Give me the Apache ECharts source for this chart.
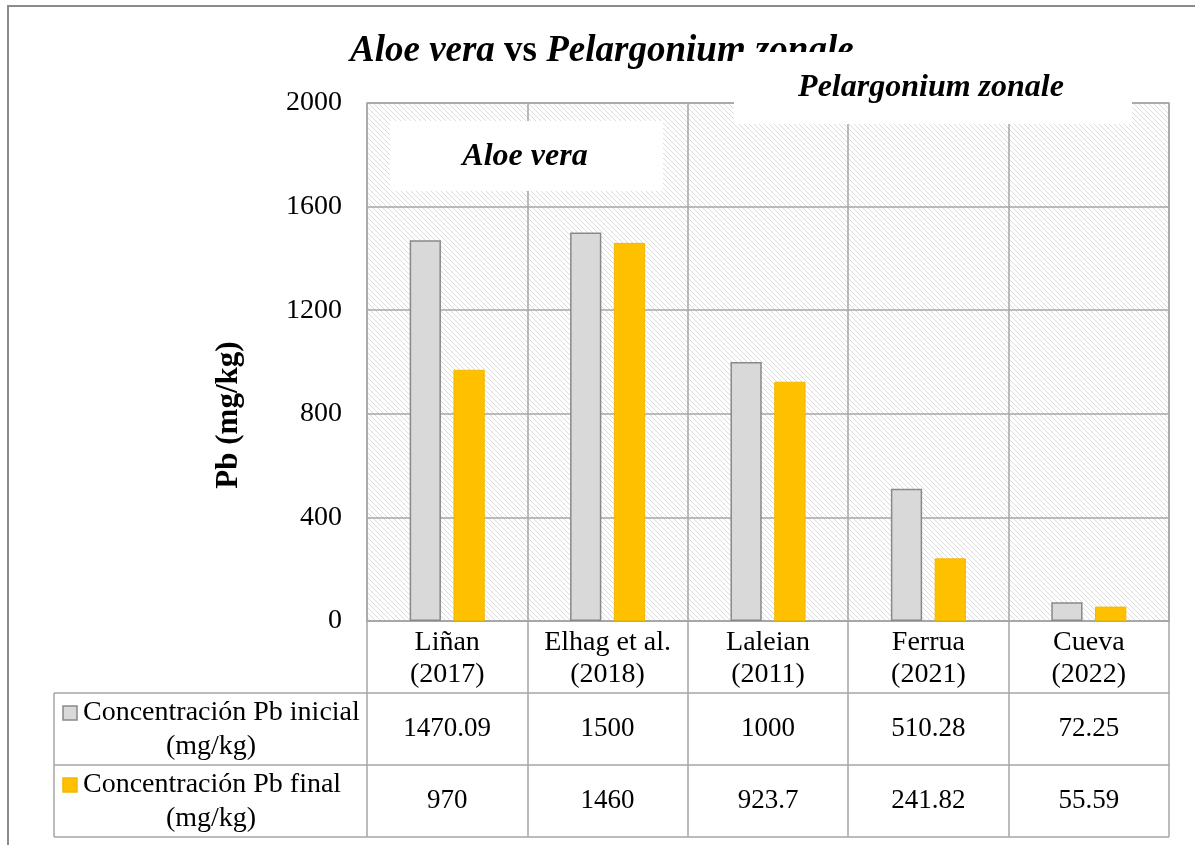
<!DOCTYPE html>
<html>
<head>
<meta charset="utf-8">
<script src="https://cdn.jsdelivr.net/npm/echarts@6/dist/echarts.min.js"></script>
<style>
  html, body { margin: 0; padding: 0; background: #fff; }
  #main { width: 1195px; height: 845px; }
</style>
</head>
<body>
<div id="main"></div>
<script>
// datos
var categories = ["Liñan\n(2017)", "Elhag et al.\n(2018)", "Laleian\n(2011)", "Ferrua\n(2021)", "Cueva\n(2022)"];
var pbInicial = [1470.09, 1500, 1000, 510.28, 72.25];
var pbFinal = [970, 1460, 923.7, 241.82, 55.59];
var seriesNames = ["Concentración Pb inicial", "Concentración Pb final"];
var yTicks = { min: 0, max: 2000, interval: 400 };

var FONT = "'Times New Roman', 'Liberation Serif', serif";
var LINE = "#a6a6a6";

// patron rayado del fondo
function hatch() {
  var c = document.createElement("canvas");
  c.width = 5; c.height = 5;
  var ctx = c.getContext("2d");
  ctx.fillStyle = "#ffffff";
  ctx.fillRect(0, 0, 5, 5);
  ctx.strokeStyle = "#dcdcdc";
  ctx.lineWidth = 1;
  ctx.beginPath();
  ctx.moveTo(-1, -1); ctx.lineTo(6, 6);
  ctx.moveTo(-1, 4); ctx.lineTo(1, 6);
  ctx.moveTo(4, -1); ctx.lineTo(6, 1);
  ctx.stroke();
  return c;
}

var chart = echarts.init(document.getElementById("main"));

var option = {
  backgroundColor: "#ffffff",
  animation: false,
  title: {
    text: "{i|Aloe vera }{b|vs }{i|Pelargonium zonale}",
    left: 345,
    top: 28,
    textStyle: {
      rich: {
        i: { fontFamily: FONT, fontSize: 37, fontWeight: "bold", fontStyle: "italic", color: "#000" },
        b: { fontFamily: FONT, fontSize: 37, fontWeight: "bold", color: "#000" }
      }
    }
  },
  grid: {
    left: 367, right: 26, top: 103, bottom: 224,
    show: true,
    backgroundColor: { image: hatch(), repeat: "repeat" },
    borderColor: LINE,
    borderWidth: 1.5
  },
  xAxis: {
    type: "category",
    data: categories,
    axisLine: { lineStyle: { color: LINE, width: 1.5 } },
    axisTick: { show: true, interval: 0, length: 216, lineStyle: { color: LINE, width: 1.5 } },
    axisLabel: { interval: 0, color: "#000", fontFamily: FONT, fontSize: 28, lineHeight: 32, margin: 6 },
    splitLine: { show: true, interval: 0, lineStyle: { color: LINE, width: 1.5 } }
  },
  yAxis: {
    type: "value",
    min: yTicks.min, max: yTicks.max, interval: yTicks.interval,
    axisLine: { show: false },
    axisTick: { show: false },
    axisLabel: { color: "#000", fontFamily: FONT, fontSize: 28, margin: 25,
      formatter: function (v) { return String(v); } },
    splitLine: { lineStyle: { color: LINE, width: 1.5 } }
  },
  series: [
    {
      name: seriesNames[0],
      type: "bar",
      data: pbInicial,
      barWidth: "19.5%",
      barGap: "40%",
      itemStyle: { color: "#d9d9d9", borderColor: "#898989", borderWidth: 1.5 }
    },
    {
      name: seriesNames[1],
      type: "bar",
      data: pbFinal,
      barWidth: "19.5%",
      itemStyle: { color: "#ffc000", borderColor: "#f2b800", borderWidth: 1 }
    }
  ]
};
chart.setOption(option);

// tabla de datos y cuadros de texto
var rows = [
  { name: seriesNames[0], values: pbInicial, fill: "#d9d9d9", stroke: "#898989", top: 693, bottom: 765 },
  { name: seriesNames[1], values: pbFinal, fill: "#ffc000", stroke: "#f2b800", top: 765, bottom: 837 }
];
var g = [];
var tableLeft = 54, tableRight = 1169;

// marco exterior
g.push({ type: "rect", shape: { x: 8, y: 6, width: 1300, height: 1000 },
  style: { fill: null, stroke: "#8c8c8c", lineWidth: 2 }, z: 1, silent: true });

[693, 765, 837].forEach(function (y) {
  g.push({ type: "line", shape: { x1: tableLeft, y1: y, x2: tableRight, y2: y },
    style: { stroke: LINE, lineWidth: 1.5 }, z: 10 });
});
g.push({ type: "line", shape: { x1: tableLeft, y1: 693, x2: tableLeft, y2: 837 },
  style: { stroke: LINE, lineWidth: 1.5 }, z: 10 });

rows.forEach(function (r) {
  var mid = (r.top + r.bottom) / 2;
  g.push({ type: "rect", shape: { x: 63, y: mid - 23, width: 14, height: 14 },
    style: { fill: r.fill, stroke: r.stroke, lineWidth: 1.5 }, z: 10 });
  g.push({ type: "text", x: 83, y: mid - 16,
    style: { text: r.name, font: "28px " + FONT, fill: "#000", align: "left", verticalAlign: "middle" }, z: 10 });
  g.push({ type: "text", x: 211, y: mid + 18,
    style: { text: "(mg/kg)", font: "28px " + FONT, fill: "#000", align: "center", verticalAlign: "middle" }, z: 10 });
  r.values.forEach(function (v, i) {
    var x = chart.convertToPixel({ xAxisIndex: 0 }, i);
    g.push({ type: "text", x: x, y: mid,
      style: { text: String(v), font: "27px " + FONT, fill: "#000", align: "center", verticalAlign: "middle" }, z: 10 });
  });
});

// eje Y titulo
g.push({ type: "text", x: 229, y: 415, rotation: Math.PI / 2,
  style: { text: "Pb (mg/kg)", font: "bold 31px " + FONT, fill: "#000", align: "center", verticalAlign: "middle" }, z: 10 });

// cuadros de texto
g.push({ type: "rect", shape: { x: 390, y: 121, width: 273, height: 70 },
  style: { fill: "#fff" }, z: 100 });
g.push({ type: "text", x: 525, y: 157,
  style: { text: "Aloe vera", font: "italic bold 32px " + FONT, fill: "#000", align: "center", verticalAlign: "middle" }, z: 101 });
g.push({ type: "rect", shape: { x: 734, y: 52, width: 398, height: 72 },
  style: { fill: "#fff" }, z: 100 });
g.push({ type: "text", x: 931, y: 88,
  style: { text: "Pelargonium zonale", font: "italic bold 32px " + FONT, fill: "#000", align: "center", verticalAlign: "middle" }, z: 101 });

chart.setOption({ graphic: g });
</script>
</body>
</html>
